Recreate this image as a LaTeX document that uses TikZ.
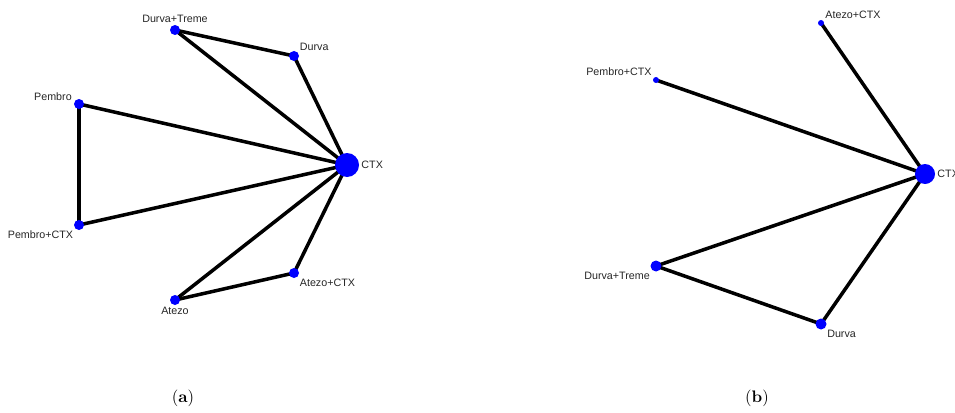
\documentclass[tikz,border=0pt]{standalone}
\usepackage{fontspec}
\usepackage{xcolor}
\usetikzlibrary{backgrounds}
\newfontfamily\lblfont{Liberation Sans}

\tikzset{
  dot/.style={circle, fill=blue, inner sep=0pt, minimum size=10*0.02cm},
  bigdot/.style={dot, minimum size=24*0.02cm},
  lbl/.style={font=\lblfont\fontsize{6.1}{7}\selectfont, text=black!85, inner sep=1pt},
  edge/.style={line width=2pt}
}

\begin{document}
\begin{tikzpicture}[x=0.02cm, y=-0.02cm, label distance=0pt]
  % picture frame
  \useasboundingbox (0,0) rectangle (955,412);

  % panel (a)
  \node[dot, label={[lbl]above:Durva+Treme}] (aDT) at (175,30) {};
  \node[dot, label={[lbl]above right:Durva}] (aDurva) at (294,56) {};
  \node[dot, label={[lbl]165:Pembro}] (aPembro) at (79,104) {};
  \node[dot, label={[lbl]below left:Pembro+CTX}] (aPembroCTX) at (79,225) {};
  \node[bigdot, label={[lbl]right:CTX}] (aCTX) at (347,165) {};
  \node[dot, label={[lbl]below right:Atezo+CTX}] (aAtezoCTX) at (294,273) {};
  \node[dot, label={[lbl]below:Atezo}] (aAtezo) at (175,300) {};

  \begin{scope}[on background layer]
    \draw[edge] (aDT.center) -- (aDurva.center);
    \draw[edge] (aDT.center) -- (aCTX.center);
    \draw[edge] (aDurva.center) -- (aCTX.center);
    \draw[edge] (aPembro.center) -- (aCTX.center);
    \draw[edge] (aPembro.center) -- (aPembroCTX.center);
    \draw[edge] (aPembroCTX.center) -- (aCTX.center);
    \draw[edge] (aAtezo.center) -- (aCTX.center);
    \draw[edge] (aAtezo.center) -- (aAtezoCTX.center);
    \draw[edge] (aAtezoCTX.center) -- (aCTX.center);
  \end{scope}

  % panel (b)
  \node[dot, minimum size=6*0.02cm, label={[lbl]above right:Atezo+CTX}] (bAtezoCTX) at (821,23) {};
  \node[dot, minimum size=6*0.02cm, label={[lbl]above left:Pembro+CTX}] (bPembroCTX) at (656,80) {};
  \node[bigdot, minimum size=20*0.02cm, label={[lbl]right:CTX}] (bCTX) at (925,174) {};
  \node[dot, minimum size=11*0.02cm, label={[lbl]below left:Durva+Treme}] (bDT) at (656,266) {};
  \node[dot, minimum size=11*0.02cm, label={[lbl]below right:Durva}] (bDurva) at (821,324) {};

  \begin{scope}[on background layer]
    \draw[edge] (bAtezoCTX.center) -- (bCTX.center);
    \draw[edge] (bPembroCTX.center) -- (bCTX.center);
    \draw[edge] (bDT.center) -- (bCTX.center);
    \draw[edge] (bDT.center) -- (bDurva.center);
    \draw[edge] (bDurva.center) -- (bCTX.center);
  \end{scope}

  % captions
  \node[font=\fontsize{9.5}{11}\selectfont] (capA) at (183,398) {(\textbf{a})};
  \node[font=\fontsize{9.5}{11}\selectfont] (capB) at (757,398) {(\textbf{b})};
\end{tikzpicture}
\end{document}
